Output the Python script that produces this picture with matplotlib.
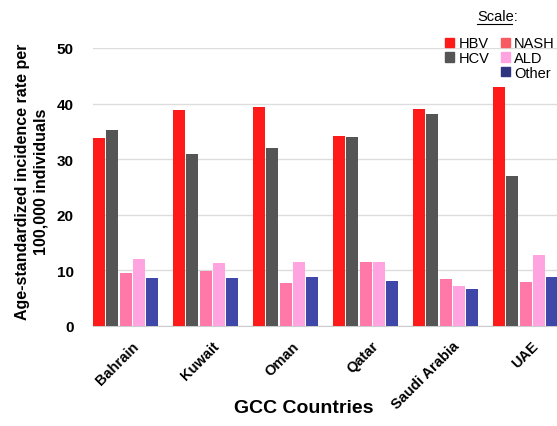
import matplotlib.pyplot as plt
import matplotlib.transforms as mtransforms
from matplotlib.patches import Patch
import numpy as np

plt.rcParams['font.family'] = ['Liberation Sans', 'DejaVu Sans']

# ================= DATA =================
countries = ["Bahrain", "Kuwait", "Oman", "Qatar", "Saudi Arabia", "UAE"]
series = ["HBV", "HCV", "NASH", "ALD", "Other"]
hbv = [33.9, 38.8, 39.3, 34.2, 39.0, 42.9]
hcv = [35.2, 30.9, 32.1, 34.0, 38.2, 27.0]
nash = [9.5, 9.9, 7.8, 11.6, 8.5, 7.9]
ald = [12.0, 11.3, 11.5, 11.6, 7.2, 12.8]
other = [8.7, 8.6, 8.8, 8.1, 6.7, 8.9]
yticks = [0, 10, 20, 30, 40, 50]
# ========================================

bar_colors = ['#ff1a1a', '#555555', '#ff78a8', '#ffa4e0', '#3f47a8']
legend_colors = ['#ff1a1a', '#555555', '#f85a62', '#ffa4e0', '#2e3480']

fig = plt.figure(figsize=(5.57, 4.27), dpi=100)
ax = fig.add_axes([93 / 557, 1 - 327 / 427, 1 - 93 / 557, (327 - 49) / 427])

x = np.arange(len(countries))
step = 1 / 6
width = 0.15
for j, vals in enumerate([hbv, hcv, nash, ald, other]):
    ax.bar(x + j * step, vals, width=width, align='edge', color=bar_colors[j], zorder=3)

ax.set_xlim(0, 5.8)
ax.set_ylim(0, 50)
ax.set_yticks(yticks)
ax.set_yticklabels([str(t) for t in yticks], fontweight='bold', fontsize=11)
ax.tick_params(axis='y', length=0, pad=14)
centers = x + (4 * step + width) / 2
ax.set_xticks(centers)
ax.set_xticklabels(countries, rotation=45, ha='right', rotation_mode='anchor',
                   fontweight='bold', fontsize=10.5)
ax.tick_params(axis='x', length=0, pad=9)
shift = mtransforms.ScaledTranslation(6 / 100, 0, fig.dpi_scale_trans)
for lbl in ax.get_xticklabels():
    lbl.set_transform(lbl.get_transform() + shift)

ax.grid(axis='y', color='#dddddd', linewidth=1, zorder=0)
for s in ['top', 'right', 'left']:
    ax.spines[s].set_visible(False)
ax.spines['bottom'].set_color('#cccccc')

ax.set_ylabel("Age-standardized incidence rate per\n100,000 individuals",
              fontweight='bold', fontsize=11.5, linespacing=1.25)
ax.yaxis.set_label_coords(-(93 - 48) / 464, (327 - 182) / 278)
ax.set_xlabel("GCC Countries", fontweight='bold', fontsize=14)
ax.xaxis.set_label_coords((304 - 93) / 464, -(400 - 327) / 278)

# legend: two columns, HBV/HCV left, NASH/ALD/Other right
handles = [Patch(color=legend_colors[0]), Patch(color=legend_colors[1]), Patch(color='none'),
           Patch(color=legend_colors[2]), Patch(color=legend_colors[3]), Patch(color=legend_colors[4])]
labels = ["HBV", "HCV", "", "NASH", "ALD", "Other"]
leg = fig.legend(handles, labels, ncol=2, loc='upper left', bbox_to_anchor=(438 / 557, 1 - 30 / 427),
                 frameon=False, fontsize=10.5, handlelength=0.6, handleheight=0.6,
                 handletextpad=0.3, columnspacing=0.8, labelspacing=0.05, borderpad=0)
fig.text(477 / 557, 1 - 17 / 427, "Scale:", fontsize=10.5, ha='left', va='center')
fig.add_artist(plt.Line2D([477 / 557, 512 / 557], [1 - 25 / 427, 1 - 25 / 427],
                          color='black', linewidth=0.8))

fig.savefig("out.png", dpi=100)
